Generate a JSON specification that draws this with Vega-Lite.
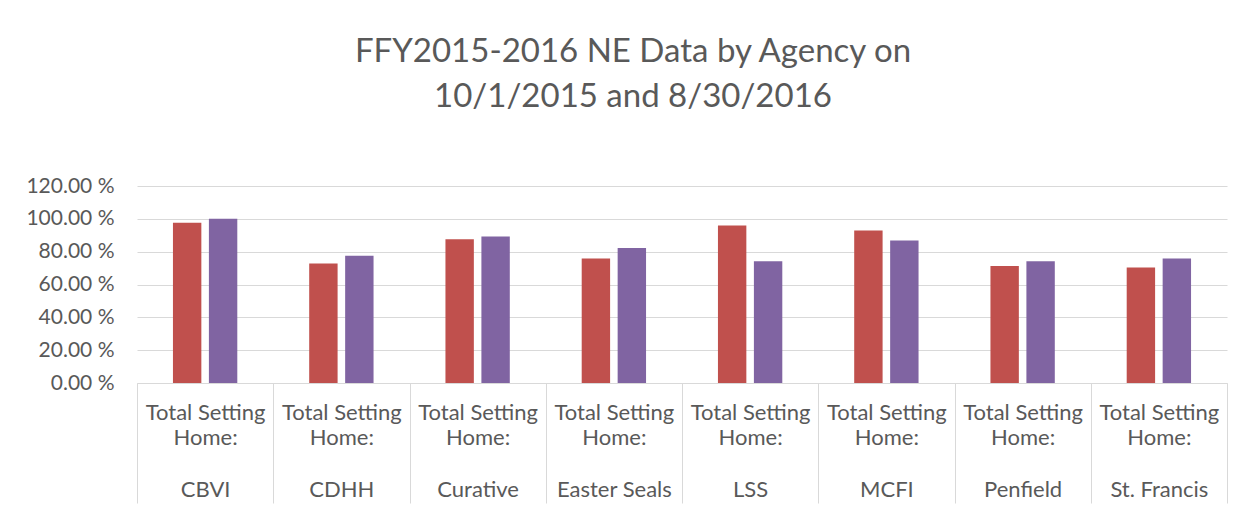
{
  "$schema": "https://vega.github.io/schema/vega-lite/v6.json",
  "width": 1090,
  "height": 197,
  "autosize": {"type": "none"},
  "padding": {"left": 137, "top": 186, "right": 26, "bottom": 129},
  "background": "white",
  "title": {
    "text": ["FFY2015-2016 NE Data by Agency on", "10/1/2015 and 8/30/2016"],
    "fontSize": 33,
    "font": "Lato",
    "fontWeight": "normal",
    "color": "#595959",
    "lineHeight": 45,
    "anchor": "middle",
    "frame": "group",
    "dx": -49,
    "offset": 61
  },
  "data": {
    "values": [
      {"agency": "CBVI", "series": "10/1/2015", "value": 97.6},
      {"agency": "CBVI", "series": "8/30/2016", "value": 100.0},
      {"agency": "CDHH", "series": "10/1/2015", "value": 72.8},
      {"agency": "CDHH", "series": "8/30/2016", "value": 77.5},
      {"agency": "Curative", "series": "10/1/2015", "value": 87.5},
      {"agency": "Curative", "series": "8/30/2016", "value": 89.3},
      {"agency": "Easter Seals", "series": "10/1/2015", "value": 75.9},
      {"agency": "Easter Seals", "series": "8/30/2016", "value": 82.2},
      {"agency": "LSS", "series": "10/1/2015", "value": 96.0},
      {"agency": "LSS", "series": "8/30/2016", "value": 74.2},
      {"agency": "MCFI", "series": "10/1/2015", "value": 92.9},
      {"agency": "MCFI", "series": "8/30/2016", "value": 86.8},
      {"agency": "Penfield", "series": "10/1/2015", "value": 71.2},
      {"agency": "Penfield", "series": "8/30/2016", "value": 74.2},
      {"agency": "St. Francis", "series": "10/1/2015", "value": 70.4},
      {"agency": "St. Francis", "series": "8/30/2016", "value": 75.9}
    ]
  },
  "mark": {"type": "bar"},
  "encoding": {
    "x": {
      "field": "agency",
      "type": "nominal",
      "sort": null,
      "scale": {"paddingInner": 0, "paddingOuter": 0},
      "axis": {
        "title": null,
        "labelAngle": 0,
        "labelExpr": "datum.label ? ['Total Setting', 'Home:', '\u200b', datum.label] : ''",
        "labelLineHeight": 25.7,
        "labelFontSize": 22,
        "labelFont": "Lato",
        "labelColor": "#595959",
        "labelBaseline": "top",
        "labelPadding": -101,
        "labelOverlap": false,
        "labelBound": false,
        "labelLimit": 0,
        "tickBand": "extent",
        "tickSize": 120,
        "tickColor": "#D9D9D9",
        "domainColor": "#D9D9D9"
      }
    },
    "xOffset": {
      "field": "series",
      "sort": null,
      "scale": {"paddingInner": 0.21, "paddingOuter": 1.0}
    },
    "y": {
      "field": "value",
      "type": "quantitative",
      "scale": {"domain": [0, 120]},
      "axis": {
        "title": null,
        "values": [0, 20, 40, 60, 80, 100, 120],
        "labelExpr": "format(datum.value, '.2f') + ' %'",
        "domain": false,
        "ticks": false,
        "labelPadding": 23,
        "labelFont": "Lato",
        "labelFontSize": 21,
        "labelColor": "#595959",
        "gridColor": "#D9D9D9"
      }
    },
    "color": {
      "field": "series",
      "sort": null,
      "scale": {"range": ["#C0504D", "#8064A2"]},
      "legend": null
    }
  },
  "config": {"view": {"stroke": null}}
}
